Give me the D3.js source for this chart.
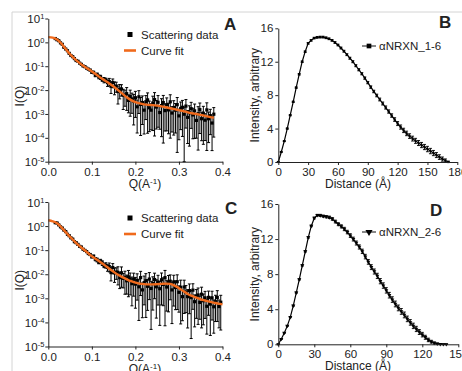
<!DOCTYPE html>
<html>
<head>
<meta charset="UTF-8" />
<title></title>
<script src="https://d3js.org/d3.v7.min.js"></script>
<style>
  body { margin: 0; background: #fff; }
  svg text { font-family: "Liberation Sans", Arial, sans-serif; fill: #222; }
</style>
</head>
<body>
<svg id="fig" width="462" height="371"></svg>
<script>
// ---------- panel A : scattering data + fit (log10 I) ----------
const qA = [0.016,0.020,0.024,0.028,0.032,0.036,0.040,0.044,0.048,0.052,0.056,0.060,0.064,0.068,0.072,0.076,0.080,0.084,0.088,0.092,0.096,
  0.100,0.104,0.108,0.112,0.116,0.120,0.124,0.128,0.132,0.136,0.140,0.144,0.148,0.152,0.156,0.160,0.164,0.168,0.172,0.176,0.180,0.184,0.188,0.192,0.196,
  0.200,0.204,0.208,0.212,0.216,0.220,0.224,0.228,0.232,0.236,0.240,0.244,0.248,0.252,0.256,0.260,0.264,0.268,0.272,0.276,0.280,0.284,0.288,0.292,0.296,
  0.300,0.304,0.308,0.312,0.316,0.320,0.324,0.328,0.332,0.336,0.340,0.344,0.348,0.352,0.356,0.360,0.364,0.368,0.372,0.376,0.380];
const logIA = [0.16,0.11,0.07,-0.02,-0.08,-0.21,-0.28,-0.35,-0.46,-0.55,-0.60,-0.68,-0.76,-0.79,-0.87,-0.92,-0.99,-1.02,-1.08,-1.12,-1.16,
  -1.25,-1.26,-1.37,-1.34,-1.44,-1.46,-1.56,-1.57,-1.58,-1.69,-1.64,-1.84,-1.68,-1.85,-1.83,-2.06,-1.97,-1.95,-2.21,-2.22,-2.15,-2.43,-2.27,-2.37,-2.46,
  -2.32,-2.70,-2.28,-2.60,-2.52,-2.84,-2.49,-2.41,-2.74,-2.84,-2.54,-2.40,-2.71,-2.51,-2.94,-2.65,-2.52,-2.86,-2.61,-2.83,-2.49,-2.96,-2.73,-2.84,-2.61,
  -3.08,-2.77,-2.72,-3.01,-2.67,-3.14,-2.95,-2.78,-3.04,-2.87,-3.27,-2.99,-2.82,-3.20,-2.97,-3.26,-2.83,-3.20,-3.07,-3.38,-3.01];
const relErrA = [0.03,0.03,0.02,0.03,0.03,0.02,0.03,0.03,0.04,0.03,0.04,0.03,0.04,0.05,0.04,0.05,0.05,0.06,0.05,0.06,0.07,
  0.1,0.12,0.15,0.12,0.18,0.2,0.15,0.25,0.2,0.3,
  0.35,0.5,0.4,0.55,0.45,0.7,0.6,0.5,0.75,0.65,0.8,0.7,0.85,0.75,0.9,
  0.85,0.92,0.8,0.95,0.88,0.9,0.82,0.96,0.9,0.85,0.93,0.97,0.88,0.91,0.8,0.95,0.98,0.86,0.92,0.9,0.97,0.84,0.93,0.89,0.99,
  0.9,0.87,0.94,1.0,0.88,0.92,0.96,0.85,0.9,0.93,0.82,0.97,0.9,0.88,0.95,0.86,0.98,0.9,0.84,0.93,0.89];
const fitQA = [0,0.01,0.02,0.03,0.04,0.05,0.06,0.07,0.08,0.09,0.10,0.11,0.12,0.13,0.14,0.15,0.16,0.17,0.18,0.19,0.20,
  0.21,0.22,0.23,0.24,0.25,0.26,0.27,0.28,0.29,0.30,0.31,0.32,0.33,0.34,0.35,0.36,0.37,0.38];
const fitLogA = [0.22,0.2,0.12,-0.05,-0.28,-0.5,-0.68,-0.84,-0.98,-1.1,-1.22,-1.35,-1.48,-1.6,-1.72,-1.85,-2.0,-2.15,-2.3,-2.42,-2.5,
  -2.56,-2.6,-2.62,-2.63,-2.65,-2.68,-2.72,-2.76,-2.8,-2.84,-2.88,-2.93,-2.97,-3.0,-3.04,-3.08,-3.12,-3.16];

// ---------- panel C ----------
const qC = [0.016,0.020,0.024,0.028,0.032,0.036,0.040,0.044,0.048,0.052,0.056,0.060,0.064,0.068,0.072,0.076,0.080,0.084,0.088,0.092,0.096,
  0.100,0.104,0.108,0.112,0.116,0.120,0.124,0.128,0.132,0.136,0.140,0.144,0.148,0.152,0.156,0.160,0.164,0.168,0.172,0.176,0.180,0.184,0.188,0.192,0.196,
  0.200,0.204,0.208,0.212,0.216,0.220,0.224,0.228,0.232,0.236,0.240,0.244,0.248,0.252,0.256,0.260,0.264,0.268,0.272,0.276,0.280,0.284,0.288,0.292,0.296,
  0.300,0.304,0.308,0.312,0.316,0.320,0.324,0.328,0.332,0.336,0.340,0.344,0.348,0.352,0.356,0.360,0.364,0.368,0.372,0.376,0.380,0.384,0.388,0.392,0.396];
const logIC = [0.14,0.13,0.05,-0.03,-0.08,-0.17,-0.23,-0.34,-0.40,-0.49,-0.54,-0.65,-0.69,-0.76,-0.84,-0.87,-0.96,-1.01,-1.06,-1.14,-1.18,
  -1.27,-1.25,-1.37,-1.40,-1.50,-1.46,-1.53,-1.64,-1.62,-1.72,-1.68,-1.93,-1.72,-1.94,-1.91,-1.92,-2.14,-1.94,-2.17,-2.13,-2.27,-2.11,-2.20,-2.39,-2.21,
  -2.41,-2.25,-2.52,-2.14,-2.65,-2.35,-2.27,-2.50,-2.20,-2.59,-2.39,-2.22,-2.52,-2.32,-2.60,-2.23,-2.42,-2.14,-2.53,-2.34,-2.29,-2.65,-2.32,-2.55,-2.31,
  -2.75,-2.54,-2.93,-2.53,-2.74,-2.93,-2.68,-2.97,-2.66,-3.14,-2.91,-2.86,-3.17,-2.83,-3.10,-2.98,-3.33,-2.96,-3.24,-2.98,-3.35,-3.14,-2.96,-3.34,-3.16];
const relErrC = [0.03,0.02,0.03,0.03,0.02,0.03,0.03,0.04,0.03,0.04,0.03,0.04,0.04,0.05,0.04,0.05,0.06,0.05,0.06,0.06,0.07,
  0.12,0.1,0.15,0.18,0.14,0.2,0.22,0.18,0.25,0.3,
  0.4,0.55,0.45,0.6,0.5,0.7,0.65,0.75,0.6,0.8,0.72,0.85,0.78,0.88,0.8,
  0.9,0.85,0.96,0.82,0.93,0.88,0.97,0.9,0.86,0.98,0.92,0.84,0.95,0.89,0.97,0.91,0.87,0.99,0.9,0.94,0.83,0.96,0.9,0.88,0.93,
  0.85,0.97,0.9,0.92,0.86,0.95,0.89,0.98,0.84,0.91,0.88,0.94,0.8,0.96,0.9,0.86,0.93,0.82,0.95,0.88,0.92,0.85,0.9,0.87,0.93];
const fitQC = [0,0.01,0.02,0.03,0.04,0.05,0.06,0.07,0.08,0.09,0.10,0.11,0.12,0.13,0.14,0.15,0.16,0.17,0.18,0.19,0.20,
  0.21,0.22,0.23,0.24,0.25,0.26,0.27,0.28,0.29,0.30,0.31,0.32,0.33,0.34,0.35,0.36,0.37,0.38,0.39,0.40];
const fitLogC = [0.24,0.2,0.12,-0.05,-0.25,-0.45,-0.63,-0.8,-0.95,-1.1,-1.25,-1.38,-1.5,-1.63,-1.77,-1.9,-2.02,-2.12,-2.21,-2.29,-2.35,
  -2.39,-2.41,-2.42,-2.42,-2.41,-2.40,-2.39,-2.40,-2.47,-2.58,-2.7,-2.82,-2.9,-2.97,-3.04,-3.09,-3.14,-3.18,-3.22,-3.25];

// ---------- panel B : P(r) aNRXN_1-6 ----------
const rB = [0,3,6,9,12,15,18,21,24,27,30,33,36,39,42,45,48,51,54,57,60,63,66,69,72,75,78,81,84,87,90,93,96,99,
  102,105,108,111,114,117,120,123,126,129,132,135,138,141,144,147,150,153,156,159,162,165,168,171];
const pB = [0,1.2,2.5,4.0,5.6,7.2,8.9,10.5,12.0,13.2,14.2,14.56,14.83,14.92,14.95,14.95,14.86,14.74,14.56,14.3,14.0,13.64,13.26,12.84,
  12.42,12.0,11.52,11.04,10.56,10.04,9.5,8.96,8.44,7.96,7.48,7.0,6.52,6.04,5.56,5.08,4.6,4.18,3.78,3.42,3.1,2.8,2.53,2.27,2.03,1.79,
  1.55,1.31,1.07,0.83,0.59,0.35,0.17,0];
const errB = [0.02,0.04,0.05,0.06,0.06,0.07,0.07,0.08,0.08,0.08,0.09,0.09,0.09,0.1,0.1,0.1,0.1,0.1,0.1,0.1,0.1,0.11,0.11,0.11,0.12,0.12,
  0.12,0.13,0.13,0.14,0.14,0.15,0.15,0.16,0.17,0.18,0.19,0.2,0.21,0.22,0.24,0.25,0.26,0.27,0.28,0.29,0.3,0.3,0.31,0.31,0.32,0.32,0.31,
  0.3,0.28,0.25,0.2,0.1];

// ---------- panel D : P(r) aNRXN_2-6 ----------
const rD = [0,2.5,5,7.5,10,12.5,15,17.5,20,22.5,25,27.5,30,32.5,35,37.5,40,42.5,45,47.5,50,52.5,55,57.5,60,62.5,65,67.5,70,
  72.5,75,77.5,80,82.5,85,87.5,90,92.5,95,97.5,100,102.5,105,107.5,110,112.5,115,117.5,120,122.5,125,127.5,130,132.5,135,137.5,140];
const pD = [0,0.6,1.3,2.1,3.1,4.4,5.9,7.4,9.0,10.6,12.2,13.5,14.4,14.72,14.7,14.62,14.55,14.48,14.3,14.0,13.7,13.45,13.15,12.8,12.4,
  12.0,11.55,11.1,10.6,10.0,9.4,8.8,8.3,7.8,7.2,6.7,6.15,5.6,5.1,4.6,4.15,3.75,3.35,2.9,2.5,2.1,1.75,1.4,1.1,0.8,0.5,0.3,0.15,0.06,
  0.02,0,0];
const errD = [0.02,0.04,0.05,0.05,0.06,0.06,0.07,0.07,0.08,0.08,0.09,0.09,0.1,0.1,0.12,0.12,0.13,0.14,0.15,0.16,0.17,0.18,0.19,0.2,
  0.21,0.22,0.23,0.24,0.25,0.26,0.27,0.28,0.29,0.3,0.3,0.31,0.31,0.32,0.32,0.33,0.33,0.33,0.33,0.32,0.32,0.31,0.3,0.28,0.26,0.23,
  0.2,0.16,0.12,0.08,0.05,0.03,0.02];

const logTicks = [1e1, 1e0, 1e-1, 1e-2, 1e-3, 1e-4, 1e-5];
const qTicks = [0, 0.1, 0.2, 0.3, 0.4];
const pTicks = [0, 4, 8, 12, 16];
const rTicksB = [0, 30, 60, 90, 120, 150, 180];
const rTicksD = [0, 30, 60, 90, 120, 150];

const ORANGE = '#f06a1c';
const svg = d3.select('#fig');

// light frame of the figure
svg.append('line').attr('x1', 12).attr('y1', 12).attr('x2', 462).attr('y2', 12).attr('stroke', '#d4d4d4');
svg.append('line').attr('x1', 12).attr('y1', 12).attr('x2', 12).attr('y2', 371).attr('stroke', '#d4d4d4');

function styleAxis(g) {
  g.selectAll('path, line').attr('stroke', '#222').attr('stroke-width', 1);
  g.selectAll('text').attr('font-size', 11.5).attr('fill', '#222')
    .attr('font-family', '"Liberation Sans", Arial, sans-serif');
}

function drawSaxs(o) {
  const x = d3.scaleLinear().domain([0, 0.4]).range([48.3, 222.5]);
  const y = d3.scaleLog().domain([1e-5, 10]).range([o.yBot, o.yTop]);
  const g = svg.append('g');

  const pts = o.q.map((q, i) => {
    const I = Math.pow(10, o.logI[i]);
    const lo = Math.max(I * (1 - o.rel[i]), 1e-5);
    return { q, I, hi: I * (1 + o.rel[i]), lo };
  });

  // error bars
  const eb = g.append('g').attr('stroke', '#000').attr('stroke-width', 1);
  eb.selectAll('line.v').data(pts).join('line').attr('class', 'v')
    .attr('x1', d => x(d.q)).attr('x2', d => x(d.q))
    .attr('y1', d => y(d.hi)).attr('y2', d => y(d.lo));
  eb.selectAll('line.t').data(pts).join('line').attr('class', 't')
    .attr('x1', d => x(d.q) - 1.5).attr('x2', d => x(d.q) + 1.5)
    .attr('y1', d => y(d.hi)).attr('y2', d => y(d.hi));
  eb.selectAll('line.b').data(pts).join('line').attr('class', 'b')
    .attr('x1', d => x(d.q) - 1.5).attr('x2', d => x(d.q) + 1.5)
    .attr('y1', d => y(d.lo)).attr('y2', d => y(d.lo));
  g.selectAll('rect.m').data(pts).join('rect').attr('class', 'm')
    .attr('x', d => x(d.q) - 1.6).attr('y', d => y(d.I) - 1.6)
    .attr('width', 3.2).attr('height', 3.2).attr('fill', '#000');

  // fit
  const fit = o.fitQ.map((q, i) => [q, Math.pow(10, o.fitLog[i])]);
  g.append('path').datum(fit)
    .attr('d', d3.line().x(d => x(d[0])).y(d => y(d[1])).curve(d3.curveMonotoneX))
    .attr('fill', 'none').attr('stroke', ORANGE).attr('stroke-width', 2.4);

  // axes
  const ay = g.append('g').attr('transform', 'translate(48.3,0)')
    .call(d3.axisLeft(y).tickValues(logTicks).tickSize(3).tickSizeOuter(0).tickFormat(() => ''));
  styleAxis(ay);
  ay.selectAll('.tick').each(function (d) {
    const t = d3.select(this).append('text').attr('x', -4).attr('dy', '0.36em')
      .attr('text-anchor', 'end').attr('font-size', 11.5).attr('fill', '#222');
    t.append('tspan').text('10');
    t.append('tspan').attr('dy', -4).attr('font-size', 7.5).text(Math.round(Math.log10(d)));
  });
  const ax = g.append('g').attr('transform', `translate(0,${o.yBot})`)
    .call(d3.axisBottom(x).tickValues(qTicks).tickSize(3).tickSizeOuter(0).tickFormat(d3.format('.1f')));
  styleAxis(ax);

  // titles
  g.append('text').attr('transform', `translate(24,${(o.yTop + o.yBot) / 2 + 6}) rotate(-90)`)
    .attr('text-anchor', 'middle').attr('font-size', 12).text('I(Q)');
  const xt = g.append('text').attr('x', 145).attr('y', o.yBot + 26)
    .attr('text-anchor', 'middle').attr('font-size', 12);
  xt.append('tspan').text('Q(A');
  xt.append('tspan').attr('dy', -4).attr('font-size', 8).text('-1');
  xt.append('tspan').attr('dy', 4).text(')');

  // legend
  const ly = o.yTop + 16;
  g.append('rect').attr('x', 127.5).attr('y', ly - 2.5).attr('width', 5).attr('height', 5).attr('fill', '#000');
  g.append('text').attr('x', 141).attr('y', ly + 4).attr('font-size', 11.5).text('Scattering data');
  g.append('line').attr('x1', 124).attr('x2', 136).attr('y1', ly + 16).attr('y2', ly + 16)
    .attr('stroke', ORANGE).attr('stroke-width', 2.6);
  g.append('text').attr('x', 141).attr('y', ly + 20).attr('font-size', 11.5).text('Curve fit');

  g.append('text').attr('x', o.lx).attr('y', o.ly).attr('font-size', 17)
    .attr('font-weight', 'bold').attr('fill', '#000').text(o.letter);
}

function drawPr(o) {
  const x = d3.scaleLinear().domain([0, o.xMax]).range([278.3, o.xEnd]);
  const y = d3.scaleLinear().domain([0, 16]).range([o.yBot, o.yTop]);
  const g = svg.append('g');
  const pts = o.r.map((r, i) => ({ r, p: o.p[i], e: o.err[i] }));

  const eb = g.append('g').attr('stroke', '#000').attr('stroke-width', 0.9);
  eb.selectAll('line.v').data(pts).join('line').attr('class', 'v')
    .attr('x1', d => x(d.r)).attr('x2', d => x(d.r))
    .attr('y1', d => y(d.p + d.e)).attr('y2', d => y(Math.max(d.p - d.e, 0)));
  eb.selectAll('line.t').data(pts).join('line').attr('class', 't')
    .attr('x1', d => x(d.r) - 1.5).attr('x2', d => x(d.r) + 1.5)
    .attr('y1', d => y(d.p + d.e)).attr('y2', d => y(d.p + d.e));
  eb.selectAll('line.b').data(pts).join('line').attr('class', 'b')
    .attr('x1', d => x(d.r) - 1.5).attr('x2', d => x(d.r) + 1.5)
    .attr('y1', d => y(Math.max(d.p - d.e, 0))).attr('y2', d => y(Math.max(d.p - d.e, 0)));
  g.append('path').datum(pts)
    .attr('d', d3.line().x(d => x(d.r)).y(d => y(d.p)))
    .attr('fill', 'none').attr('stroke', '#000').attr('stroke-width', 1.2);
  const sym = d3.symbol().type(o.symbol).size(o.symSize);
  g.selectAll('path.m').data(pts).join('path').attr('class', 'm')
    .attr('transform', d => `translate(${x(d.r)},${y(d.p)})${o.symbol === d3.symbolTriangle ? ' rotate(180)' : ''}`)
    .attr('d', sym).attr('fill', '#000');

  const ay = g.append('g').attr('transform', 'translate(278.3,0)')
    .call(d3.axisLeft(y).tickValues(pTicks).tickSize(3).tickSizeOuter(0));
  styleAxis(ay);
  ay.selectAll('text').attr('x', -5);
  const ax = g.append('g').attr('transform', `translate(0,${o.yBot})`)
    .call(d3.axisBottom(x).tickValues(o.xTicks).tickSize(3).tickSizeOuter(0));
  styleAxis(ax);

  g.append('text').attr('transform', `translate(259,${(o.yTop + o.yBot) / 2}) rotate(-90)`)
    .attr('text-anchor', 'middle').attr('font-size', 12).text('Intensity, arbitrary');
  g.append('text').attr('x', 358).attr('y', o.yBot + 26)
    .attr('text-anchor', 'middle').attr('font-size', 12).text('Distance (Å)');

  // legend
  g.append('line').attr('x1', 362).attr('x2', 376).attr('y1', o.legY).attr('y2', o.legY)
    .attr('stroke', '#111').attr('stroke-width', 1);
  g.append('path').attr('transform', `translate(369,${o.legY})${o.symbol === d3.symbolTriangle ? ' rotate(180)' : ''}`)
    .attr('d', d3.symbol().type(o.symbol).size(22)).attr('fill', '#000');
  g.append('text').attr('x', 379).attr('y', o.legY + 4).attr('font-size', 11.5).text(o.label);

  g.append('text').attr('x', o.lx).attr('y', o.ly).attr('font-size', 17)
    .attr('font-weight', 'bold').attr('fill', '#000').text(o.letter);
}

drawSaxs({ q: qA, logI: logIA, rel: relErrA, fitQ: fitQA, fitLog: fitLogA,
  yTop: 18.5, yBot: 161.7, letter: 'A', lx: 224, ly: 30 });
drawSaxs({ q: qC, logI: logIC, rel: relErrC, fitQ: fitQC, fitLog: fitLogC,
  yTop: 202, yBot: 346.5, letter: 'C', lx: 225, ly: 214 });
drawPr({ r: rB, p: pB, err: errB, xMax: 180, xEnd: 457.3, xTicks: rTicksB, yTop: 28.3, yBot: 162,
  symbol: d3.symbolSquare, symSize: 5, legY: 46, label: 'αNRXN_1-6', letter: 'B', lx: 439, ly: 28 });
drawPr({ r: rD, p: pD, err: errD, xMax: 150, xEnd: 458.3, xTicks: rTicksD, yTop: 204, yBot: 344.3,
  symbol: d3.symbolTriangle, symSize: 7, legY: 232, label: 'αNRXN_2-6', letter: 'D', lx: 430, ly: 216 });
</script>
</body>
</html>
